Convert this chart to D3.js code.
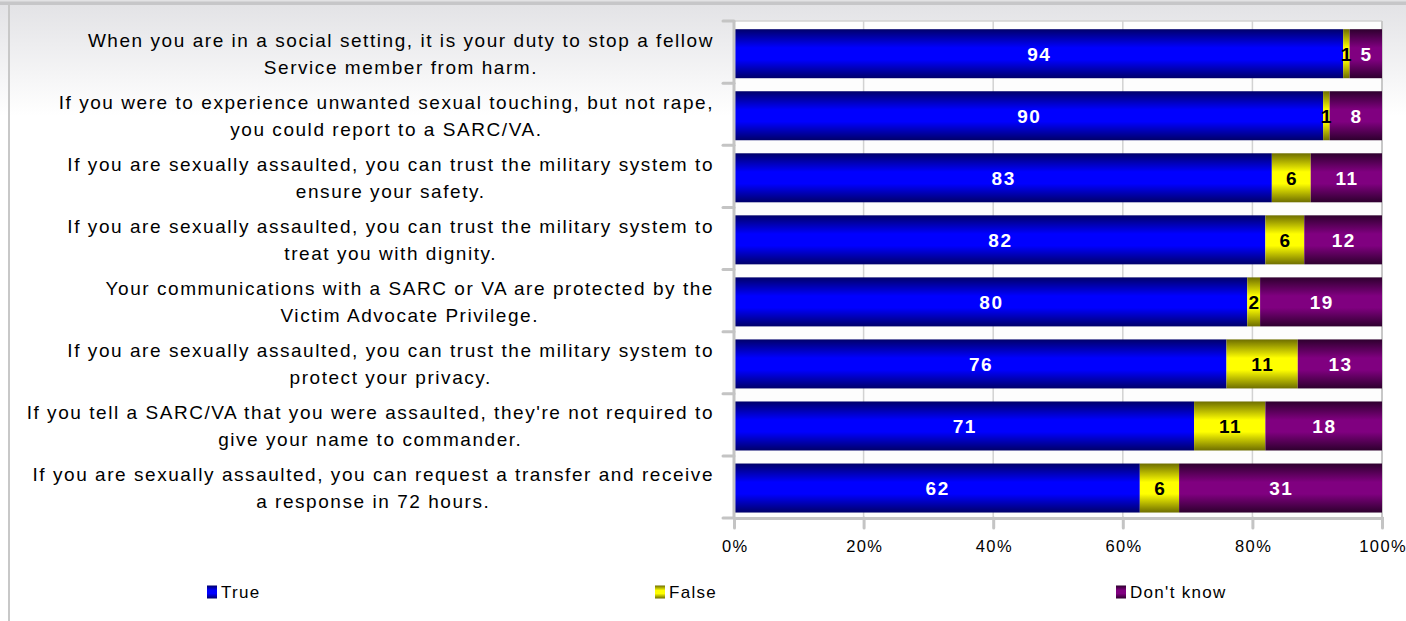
<!DOCTYPE html>
<html>
<head>
<meta charset="utf-8">
<script src="https://cdn.jsdelivr.net/npm/d3@7"></script>
<style>
  body { margin: 0; background: #fff; }
  svg { display: block; font-family: "Liberation Sans", Arial, sans-serif; }
</style>
</head>
<body>
<svg id="chart" width="1406" height="621"></svg>
<script>
// Survey statements (each entry is the wrapped lines of one label)
const statements = [
  ["When you are in a social setting, it is your duty to stop a fellow", "Service member from harm."],
  ["If you were to experience unwanted sexual touching, but not rape,", "you could report to a SARC/VA."],
  ["If you are sexually assaulted, you can trust the military system to", "ensure your safety."],
  ["If you are sexually assaulted, you can trust the military system to", "treat you with dignity."],
  ["Your communications with a SARC or VA are protected by the", "Victim Advocate Privilege."],
  ["If you are sexually assaulted, you can trust the military system to", "protect your privacy."],
  ["If you tell a SARC/VA that you were assaulted, they're not required to", "give your name to commander."],
  ["If you are sexually assaulted, you can request a transfer and receive", "a response in 72 hours."]
];
const seriesNames = ["True", "False", "Don't know"];
const trueVals     = [94, 90, 83, 82, 80, 76, 71, 62];
const falseVals    = [1, 1, 6, 6, 2, 11, 11, 6];
const dontKnowVals = [5, 8, 11, 12, 19, 13, 18, 31];
const tickValues = [0, 0.2, 0.4, 0.6, 0.8, 1];
const tickLabels = ["0%", "20%", "40%", "60%", "80%", "100%"];

// Rows for the stack layout
const rows = statements.map((s, i) => ({
  idx: i,
  "True": trueVals[i],
  "False": falseVals[i],
  "Don't know": dontKnowVals[i]
}));

const W = 1406, H = 621;
const plot = { left: 734, right: 1382, top: 21, bottom: 518 };
const labelRight = 714;

const svg = d3.select("#chart");
const defs = svg.append("defs");

// Background and frame shading
const bgGrad = defs.append("linearGradient").attr("id", "bgGrad")
  .attr("x1", 0).attr("y1", 0).attr("x2", 0).attr("y2", 1);
bgGrad.append("stop").attr("offset", 0).attr("stop-color", "#e3e3e6");
bgGrad.append("stop").attr("offset", 0.18).attr("stop-color", "#ffffff");
bgGrad.append("stop").attr("offset", 1).attr("stop-color", "#ffffff");

svg.append("rect").attr("width", W).attr("height", H).attr("fill", "#ffffff");
svg.append("rect").attr("x", 0).attr("y", 0).attr("width", W).attr("height", 5).attr("fill", "#c6c6c8");
svg.append("rect").attr("x", 0).attr("y", 0).attr("width", W).attr("height", 1.5).attr("fill", "#e2e2e4");
svg.append("rect").attr("x", 0).attr("y", 5).attr("width", 9).attr("height", H - 5).attr("fill", "url(#bgGrad)");
svg.append("rect").attr("x", 10).attr("y", 5).attr("width", W - 10).attr("height", H - 5)
  .attr("fill", "url(#bgGrad)");
svg.append("line").attr("x1", 9).attr("x2", 9).attr("y1", 5).attr("y2", H)
  .attr("stroke", "#c8c8c8").attr("stroke-width", 2);

// Cylinder-like shading for each series
const shades = {
  "True":       { edge: "#00006a", mid: "#0000ff" },
  "False":      { edge: "#6e6e00", mid: "#ffff00" },
  "Don't know": { edge: "#2e002e", mid: "#800080" }
};
const gradId = name => "g" + seriesNames.indexOf(name);
seriesNames.forEach(name => {
  const g = defs.append("linearGradient").attr("id", gradId(name))
    .attr("x1", 0).attr("y1", 0).attr("x2", 0).attr("y2", 1);
  g.append("stop").attr("offset", 0).attr("stop-color", shades[name].edge);
  g.append("stop").attr("offset", 0.38).attr("stop-color", shades[name].mid);
  g.append("stop").attr("offset", 0.62).attr("stop-color", shades[name].mid);
  g.append("stop").attr("offset", 1).attr("stop-color", shades[name].edge);
});

// Scales
const x = d3.scaleLinear().domain([0, 1]).range([plot.left, plot.right]);
const y = d3.scaleBand().domain(d3.range(statements.length))
  .range([plot.top, plot.bottom]).paddingInner(0.21).paddingOuter(0.11).align(0.6);

// Plot area
svg.append("rect").attr("x", plot.left).attr("y", plot.top)
  .attr("width", plot.right - plot.left).attr("height", plot.bottom - plot.top)
  .attr("fill", "#fdfdfd");

// Vertical gridlines
svg.append("g").selectAll("line").data(tickValues.slice(1, -1)).join("line")
  .attr("x1", d => x(d)).attr("x2", d => x(d))
  .attr("y1", plot.top).attr("y2", plot.bottom)
  .attr("stroke", "#d2d2d2").attr("stroke-width", 1.5);
svg.append("line").attr("x1", plot.left).attr("x2", plot.right)
  .attr("y1", plot.top).attr("y2", plot.top)
  .attr("stroke", "#d2d2d2").attr("stroke-width", 1.5);
svg.append("line").attr("x1", plot.right).attr("x2", plot.right)
  .attr("y1", plot.top).attr("y2", plot.bottom)
  .attr("stroke", "#c8c8c8").attr("stroke-width", 2);

// Stacked, normalised to 100%
const stack = d3.stack().keys(seriesNames).offset(d3.stackOffsetExpand);
const layers = stack(rows);

const layerG = svg.append("g").selectAll("g").data(layers).join("g")
  .attr("fill", d => `url(#${gradId(d.key)})`);
layerG.selectAll("rect").data(d => d).join("rect")
  .attr("x", d => x(d[0]))
  .attr("width", d => x(d[1]) - x(d[0]))
  .attr("y", d => y(d.data.idx))
  .attr("height", y.bandwidth());

// Value labels centred in each segment
const valueSpacing = 1.5;
layers.forEach(layer => {
  svg.append("g").selectAll("text").data(layer).join("text")
    .attr("x", d => (x(d[0]) + x(d[1])) / 2 + valueSpacing / 2)
    .attr("y", d => y(d.data.idx) + y.bandwidth() / 2)
    .attr("dy", "0.36em")
    .attr("text-anchor", "middle")
    .attr("font-size", 19).attr("font-weight", "bold")
    .attr("letter-spacing", valueSpacing + "px")
    .attr("fill", layer.key === "False" ? "#000000" : "#ffffff")
    .text(d => d.data[layer.key]);
});

// Category axis (left) with ticks at band boundaries
const axisColor = "#c4c4c4";
const boundaries = d3.range(statements.length + 1).map(i => plot.top + i * (plot.bottom - plot.top) / statements.length);
svg.append("line").attr("x1", plot.left).attr("x2", plot.left)
  .attr("y1", plot.top).attr("y2", plot.bottom)
  .attr("stroke", axisColor).attr("stroke-width", 3);
svg.append("g").selectAll("line").data(boundaries).join("line")
  .attr("x1", plot.left - 11).attr("x2", plot.left)
  .attr("y1", d => d).attr("y2", d => d)
  .attr("stroke", axisColor).attr("stroke-width", 3).attr("stroke-linecap", "round");

// Value axis (bottom)
const xAxis = d3.axisBottom(x).tickValues(tickValues)
  .tickFormat((d, i) => tickLabels[i]).tickSize(10).tickPadding(12);
const xg = svg.append("g").attr("transform", `translate(0,${plot.bottom})`).call(xAxis);
xg.select(".domain").attr("stroke", axisColor).attr("stroke-width", 3);
xg.selectAll(".tick line").attr("stroke", axisColor).attr("stroke-width", 3).attr("stroke-linecap", "round");
xg.selectAll(".tick text").attr("font-size", 16.5).attr("fill", "#000")
  .attr("font-family", "'Liberation Sans', Arial, sans-serif")
  .attr("letter-spacing", "1.4px").attr("dx", "0.7px");

// Category labels: wrapped lines centred on a common axis, widest line ending at labelRight
const lineGap = 27;
statements.forEach((lines, i) => {
  const cy = y(i) + y.bandwidth() / 2;
  const t = svg.append("text")
    .attr("font-size", 19).attr("fill", "#000").attr("letter-spacing", "1.55px")
    .attr("text-anchor", "middle");
  lines.forEach((ln, j) => {
    t.append("tspan")
      .attr("y", cy + (j - (lines.length - 1) / 2) * lineGap)
      .attr("dy", "0.36em")
      .text(ln);
  });
  const widths = t.selectAll("tspan").nodes().map(n => n.getComputedTextLength());
  const cx = labelRight - d3.max(widths) / 2;
  t.selectAll("tspan").attr("x", cx);
});

// Legend
const legendX = [207, 655, 1116];
const legendY = 592;
const lg = svg.append("g").selectAll("g").data(seriesNames).join("g")
  .attr("transform", (d, i) => `translate(${legendX[i]},${legendY})`);
lg.append("rect").attr("x", 0).attr("y", -6.5).attr("width", 10).attr("height", 13)
  .attr("fill", d => `url(#${gradId(d)})`);
lg.append("text").attr("x", 14).attr("dy", "0.36em")
  .attr("font-size", 17).attr("letter-spacing", "1.3px").attr("fill", "#000")
  .text(d => d);
</script>
</body>
</html>
